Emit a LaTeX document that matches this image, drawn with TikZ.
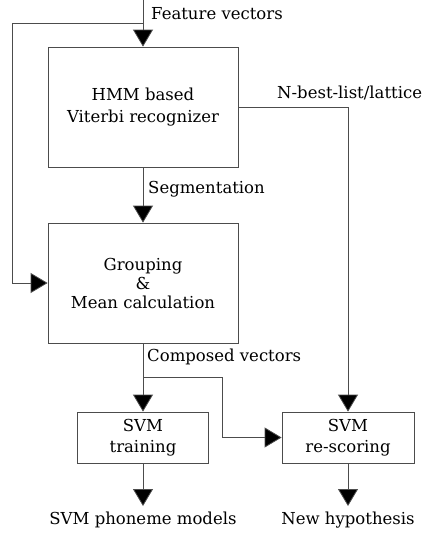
\documentclass[tikz,border=0pt]{standalone}
\usepackage{fontspec}
\setmainfont{DejaVu Serif}
\usetikzlibrary{arrows.meta}
\begin{document}
\begin{tikzpicture}[x=1pt,y=1pt,
  font=\fontsize{16.5}{22}\selectfont,
  box/.style={draw=black!70,line width=0.8pt,rectangle,align=center,inner sep=0pt},
  conn/.style={draw=black!70,line width=0.8pt},
  arr/.style={conn,-{Triangle[length=17pt,width=20pt,fill=black]}},
  lbl/.style={anchor=west,inner sep=0pt}]
\useasboundingbox (0,0) rectangle (430,-533);
\node[box,minimum width=190,minimum height=120] (b1) at (143,-107) {HMM based\\Viterbi recognizer};
\node[box,minimum width=190,minimum height=120,font=\fontsize{16.5}{19}\selectfont] (b2) at (143,-283) {Grouping\\\&\\Mean calculation};
\node[box,minimum width=131,minimum height=51,font=\fontsize{16.5}{20.5}\selectfont] (b3) at (143,-437.5) {SVM\\training};
\node[box,minimum width=132,minimum height=51,font=\fontsize{16.5}{20.5}\selectfont] (b4) at (348,-437.5) {SVM\\re-scoring};
\coordinate (in) at (143,0);
\coordinate (fb) at (143,-23);
\coordinate (fbl) at (12,-23);
\coordinate (br) at (143,-377);
\coordinate (brr) at (222,-377);
\coordinate (o3) at (143,-506);
\coordinate (o4) at (348,-506);
\node[inner sep=0pt,anchor=north] (t3) at (143,-512) {SVM phoneme models};
\node[inner sep=0pt,anchor=north] (t4) at (348,-512) {New hypothesis};
\node[lbl] (lf) at (151,-14) {Feature vectors};
\node[lbl] (ln) at (277,-93) {N-best-list/lattice};
\node[lbl] (ls) at (148,-189) {Segmentation};
\node[lbl] (lc) at (147,-357) {Composed vectors};
\draw[arr] (in) -- (b1.north);
\draw[arr] (fb) -- (fbl) |- (b2.west);
\draw[arr] (b1.east) -| (b4.north);
\draw[arr] (b1.south) -- (b2.north);
\draw[arr] (b2.south) -- (b3.north);
\draw[arr] (br) -- (brr) |- (b4.west);
\draw[arr] (b3.south) -- (o3);
\draw[arr] (b4.south) -- (o4);
\end{tikzpicture}
\end{document}
